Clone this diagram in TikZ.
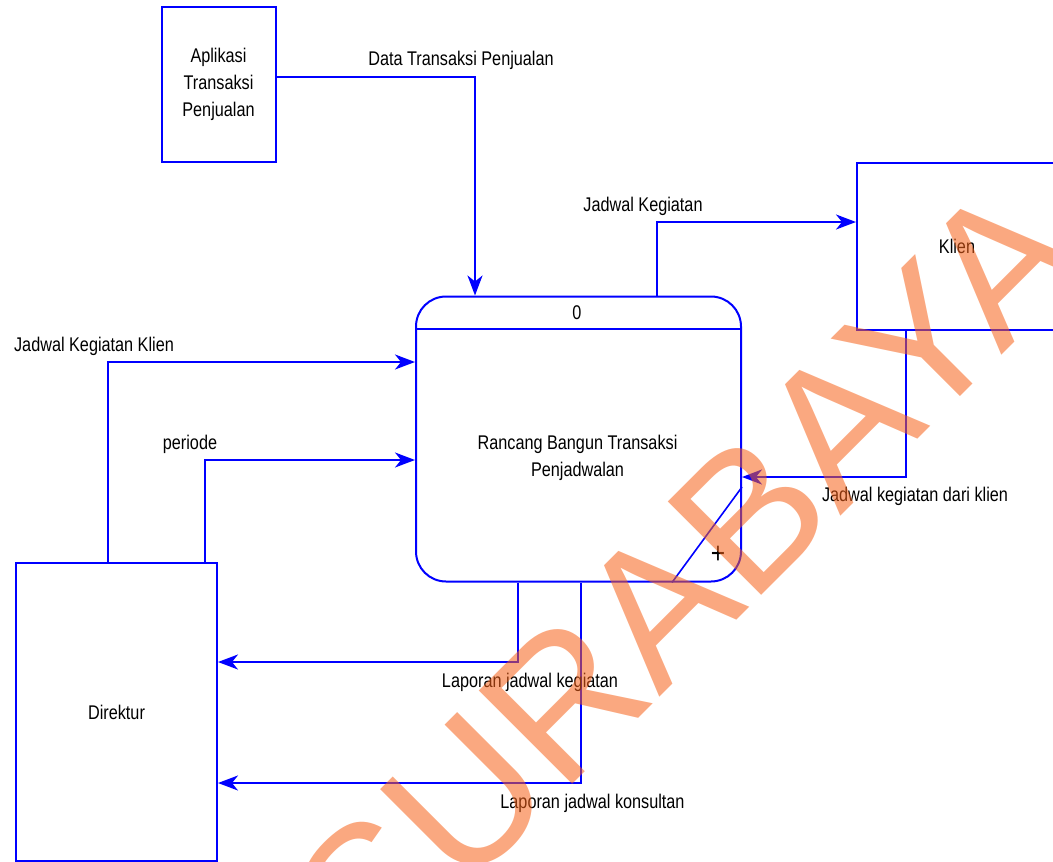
\documentclass[tikz,border=0pt]{standalone}
\usepackage{fontspec}
\setmainfont{Liberation Sans}[FakeStretch=0.82]
\newfontfamily\wmfont{Liberation Sans}
\usetikzlibrary{arrows.meta}
\definecolor{dfdblue}{RGB}{0,0,255}
\definecolor{wmorange}{RGB}{246,97,24}
\newcommand{\lblfont}{\fontsize{19.8}{27}\selectfont}
\begin{document}
\begin{tikzpicture}[x=1pt,y=-1pt]
	\tikzset{ent/.style={draw=dfdblue,line width=2pt,rectangle,inner sep=0,font=\lblfont,align=center},
	flow/.style={draw=dfdblue,line width=2pt,-{Stealth[length=20pt,width=15pt,inset=6pt]}},
	lbl/.style={font=\lblfont,inner sep=0,align=center},
	wm/.style={font={\wmfont\fontsize{192}{192}\selectfont},text=wmorange,text opacity=0.55,inner sep=0}}
	\useasboundingbox (0,0) rectangle (1053,862);
	\clip (0,0) rectangle (1053,862);
	\node[ent,minimum width=114pt,minimum height=155pt](apl) at (218.5,84.5){Aplikasi\\Transaksi\\Penjualan};
	\node[ent,rounded corners=30pt,minimum width=325pt,minimum height=285pt](proc) at (578.5,439){};
	\draw[dfdblue,line width=2pt](proc.west |- 0,329)--(proc.east |- 0,329);
	\node[lbl](pnum) at (577,313){0};
	\node[lbl](ptxt) at (577.5,457.5){Rancang Bangun Transaksi\\Penjadwalan};
	\node[ent,minimum width=200pt,minimum height=167pt](klien) at (957,246.5){Klien};
	\node[ent,minimum width=201pt,minimum height=298pt](dir) at (116.5,712){Direktur};
	% data flows
	\draw[flow](apl.east |- 0,77) -| (proc.north -| 475,0);
	\draw[flow](proc.north -| 657,0) |- (klien.west |- 0,222);
	\draw[flow](klien.south -| 906,0) |- (proc.east |- 0,477);
	\draw[flow](dir.north -| 108,0) |- (proc.west |- 0,362);
	\draw[flow](dir.north -| 205,0) |- (proc.west |- 0,460);
	\draw[flow](proc.south -| 518,0) |- (dir.east |- 0,662);
	\draw[flow](proc.south -| 581,0) |- (dir.east |- 0,783);
	\draw[dfdblue,line width=1.6pt](proc.east |- 0,487)--(proc.south -| 672,0);
	\node[inner sep=0,font=\fontsize{30}{30}\selectfont](plus) at (718,555){+};
	\path[every node/.style={lbl,anchor=base}]
	(461,65)node(ldata){Data Transaksi Penjualan}
	(643,211)node(ljk){Jadwal Kegiatan}
	(915,501)node(ljkk){Jadwal kegiatan dari klien}
	(94,351)node(ljkkl){Jadwal Kegiatan Klien}
	(190,449)node(lper){periode}
	(530,687)node(llk){Laporan jadwal kegiatan}
	(592.5,808)node(llkon){Laporan jadwal konsultan};
	\node[wm,rotate=45,anchor=base west](wmark) at (373,984){SURABAYA};
\end{tikzpicture}
\end{document}
